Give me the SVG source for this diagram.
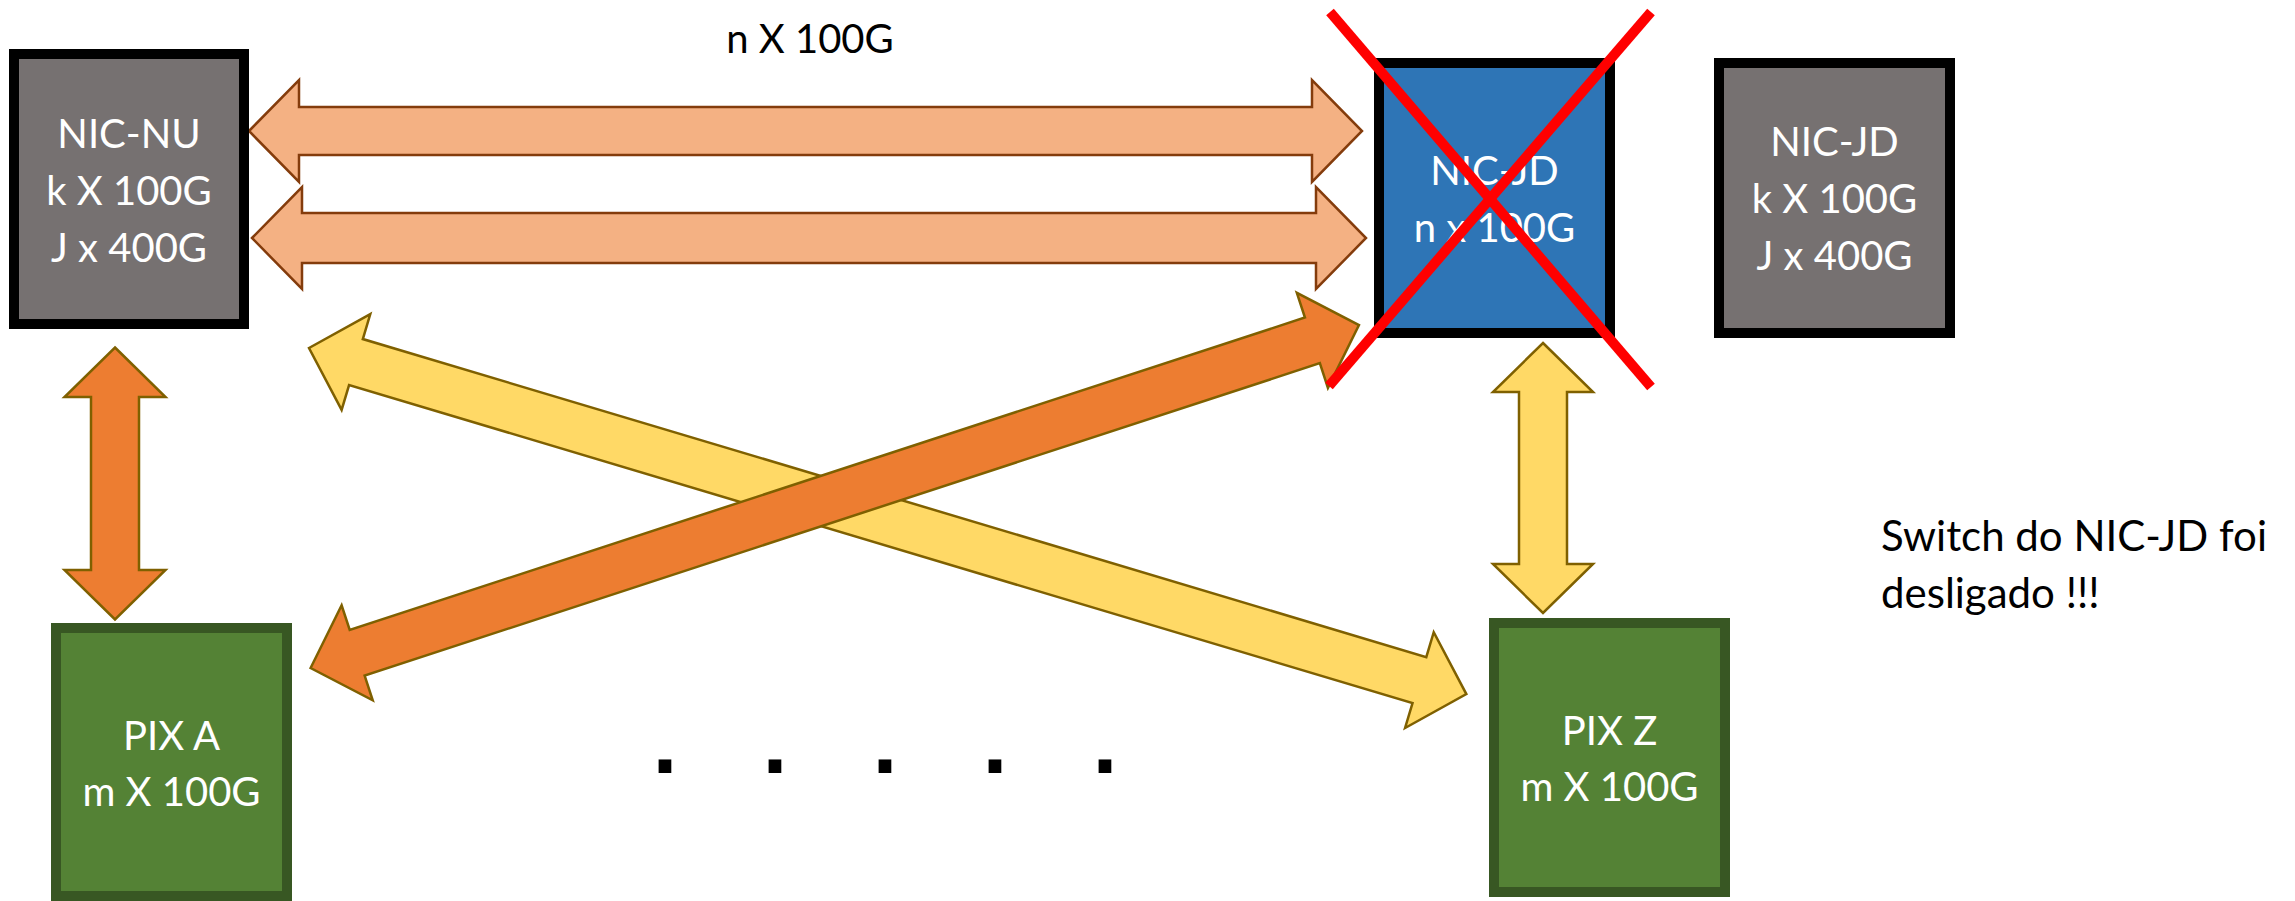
<svg xmlns="http://www.w3.org/2000/svg" width="2295" height="901" viewBox="0 0 2295 901">
<style>
.box{stroke-width:10}
.grey{fill:#767171;stroke:#000}
.blue{fill:#2E75B6;stroke:#000}
.green{fill:#548235;stroke:#385723}
.lbl{font-family:Lato,"Liberation Sans",sans-serif;font-size:40px;fill:#fff;text-anchor:middle}
.txt{font-family:Lato,"Liberation Sans",sans-serif;font-size:40px;fill:#000}
.note{font-size:42px}
.peach{fill:#F4B183;stroke:#843C0C;stroke-width:2.5}
.orange{fill:#ED7D31;stroke:#7F6000;stroke-width:2.5}
.yellow{fill:#FFD966;stroke:#7F6000;stroke-width:2.5}
.cross{stroke:#FF0000;stroke-width:10;fill:none}
</style>
<rect width="2295" height="901" fill="#fff"/>
<g id="connectors">
<polygon class="peach" points="249,131 299,80 299,107 1312,107 1312,80 1362,131 1312,182 1312,155 299,155 299,182"/>
<polygon class="peach" points="252,238 302,187 302,213 1316,213 1316,187 1366,238 1316,289 1316,263 302,263 302,289"/>
<polygon class="orange" points="115,347.5 165.5,397 139,397 139,570 165.5,570 115,619.5 64.5,570 91,570 91,397 64.5,397"/>
<polygon class="yellow" points="1543,343 1593,392 1567,392 1567,564 1593,564 1543,613 1493,564 1519,564 1519,392 1493,392"/>
<polygon class="yellow" transform="translate(309,348) rotate(16.65)" points="0,0 49,-50 49,-24 1159,-24 1159,-50 1208,0 1159,50 1159,24 49,24 49,50"/>
<polygon class="orange" transform="translate(310.6,668) rotate(-18.11)" points="0,0 49,-50 49,-24 1054,-24 1054,-50 1103,0 1054,50 1054,24 49,24 49,50"/>
</g>
<g id="nic-nu">
<rect class="box grey" x="14" y="54" width="230" height="270"/>
<text class="lbl" x="129" y="148">NIC-NU</text>
<text class="lbl" x="129" y="205">k X 100G</text>
<text class="lbl" x="129" y="262">J x 400G</text>
</g>
<g id="nic-jd-switch">
<rect class="box blue" x="1379" y="63" width="231" height="270"/>
<text class="lbl" x="1494.5" y="185">NIC-JD</text>
<text class="lbl" x="1494.5" y="242">n x 100G</text>
</g>
<g id="nic-jd">
<rect class="box grey" x="1719" y="63" width="231" height="270"/>
<text class="lbl" x="1834.5" y="156">NIC-JD</text>
<text class="lbl" x="1834.5" y="213">k X 100G</text>
<text class="lbl" x="1834.5" y="270">J x 400G</text>
</g>
<g id="pix-a">
<rect class="box green" x="56" y="628" width="231" height="268"/>
<text class="lbl" x="171.5" y="750">PIX A</text>
<text class="lbl" x="171.5" y="806">m X 100G</text>
</g>
<g id="pix-z">
<rect class="box green" x="1494" y="623" width="231" height="269"/>
<text class="lbl" x="1609.5" y="745">PIX Z</text>
<text class="lbl" x="1609.5" y="801">m X 100G</text>
</g>
<g id="link-label">
<text class="txt" x="810" y="53" text-anchor="middle">n X 100G</text>
</g>
<g id="dots">
<text x="665 775 885 995 1105" y="773" text-anchor="middle" font-family="'Liberation Sans',sans-serif" font-weight="bold" font-size="90" fill="#000">.....</text>
</g>
<g id="note">
<text class="txt note" x="1881" y="551">Switch do NIC-JD foi</text>
<text class="txt note" x="1881" y="608">desligado !!!</text>
</g>
<g id="cross">
<line class="cross" x1="1330" y1="12" x2="1651" y2="387"/>
<line class="cross" x1="1651" y1="12" x2="1329" y2="386"/>
</g>
</svg>
